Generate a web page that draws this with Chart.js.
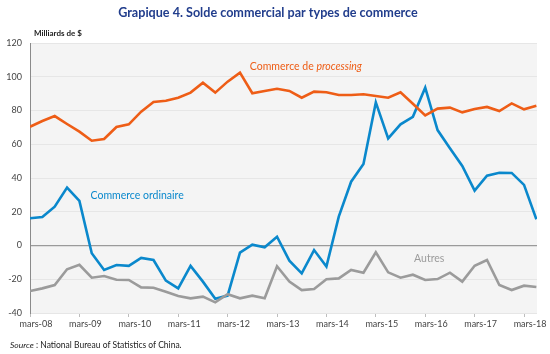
<!DOCTYPE html>
<html>
<head>
<meta charset="utf-8">
<script src="https://cdn.jsdelivr.net/npm/chart.js@4.4.0/dist/chart.umd.min.js"></script>
<style>
  body { margin: 0; background: #fff; }
  canvas { display: block; }
</style>
</head>
<body>
<canvas id="chart" width="550" height="354"></canvas>
<script>
// quarterly values, mars-08 to juin-18
const yearLabels = ['mars-08', 'mars-09', 'mars-10', 'mars-11', 'mars-12', 'mars-13',
  'mars-14', 'mars-15', 'mars-16', 'mars-17', 'mars-18'];

const processing = [70.4, 73.8, 76.7, 72, 67.5, 62.1, 63.1, 70.2, 71.8, 79.3,
  85, 85.8, 87.6, 90.6, 96.5, 90.6, 97.1, 102.4, 90.2, 91.6,
  92.9, 91.6, 87.6, 91.2, 90.8, 89.2, 89.2, 89.6, 88.6, 87.6,
  90.8, 84, 77.1, 81.1, 81.7, 78.9, 80.9, 82.1, 79.7, 84.2,
  80.7, 82.8];

const ordinaire = [16.1, 16.9, 23, 34.3, 26.4, -4.6, -14.5, -11.6, -12.1, -7.4,
  -8.6, -20.8, -25.4, -12.1, -21.4, -31.5, -29.7, -4.2, 0.5, -1.1,
  5.2, -9, -16.5, -2.7, -12.5, 17.1, 37.8, 48.3, 84.8, 63.5,
  71.8, 76.3, 93.5, 68.4, 57.6, 47.1, 32.5, 41.4, 43.1, 43,
  35.9, 15.5];

const autres = [-27, -25.4, -23.4, -14.1, -11.4, -19.1, -18.1, -20.3, -20.4, -24.8,
  -25, -27.4, -29.9, -31.3, -30.3, -33.7, -28.9, -31.3, -29.7, -31.3,
  -12.3, -21.4, -26.4, -25.8, -20, -19.5, -14.5, -16.1, -4, -15.9,
  -19.1, -17.3, -20.4, -19.9, -16.1, -21.4, -12, -8.6, -23.4, -26.4,
  -23.8, -24.6];

const ORANGE = '#ee5d16';
const BLUE = '#0a88cc';
const GREY = '#9b9b9b';

const toPoints = arr => arr.map((v, i) => ({ x: i, y: v }));

const decor = {
  id: 'decor',
  beforeDraw(chart) {
    const { ctx, chartArea: a } = chart;
    ctx.save();
    ctx.fillStyle = '#f4f4f4';
    ctx.fillRect(a.left, a.top, a.right - a.left, a.bottom - a.top);
    ctx.restore();
  },
  afterDraw(chart) {
    const { ctx } = chart;
    const xs = chart.scales.x, ys = chart.scales.y;
    ctx.save();
    ctx.textBaseline = 'middle';

    ctx.fillStyle = '#213d8c';
    ctx.font = 'bold 12.6px Lato';
    ctx.textAlign = 'center';
    ctx.fillText('Grapique 4. Solde commercial par types de commerce', 268, 13);

    ctx.textAlign = 'left';
    ctx.fillStyle = '#222';
    ctx.font = 'bold 8px Lato';
    ctx.fillText('Milliards de $', 34, 33);

    // series labels
    ctx.font = '10.5px Lato';
    ctx.fillStyle = ORANGE;
    let x = xs.getPixelForValue(17.8), y = ys.getPixelForValue(106);
    ctx.fillText('Commerce de ', x, y);
    x += ctx.measureText('Commerce de ').width;
    ctx.font = 'italic 10.5px Lato';
    ctx.fillText('processing', x, y);

    ctx.font = '10.5px Lato';
    ctx.fillStyle = BLUE;
    ctx.fillText('Commerce ordinaire', xs.getPixelForValue(4.9), ys.getPixelForValue(29.5));

    ctx.fillStyle = GREY;
    ctx.fillText('Autres', xs.getPixelForValue(31.1), ys.getPixelForValue(-7.6));

    // source
    ctx.fillStyle = '#222';
    ctx.font = 'italic 8.5px Lato';
    ctx.fillText('Source', 10, 345);
    const w = ctx.measureText('Source').width;
    ctx.font = '8.5px Lato';
    ctx.fillText(' : National Bureau of Statistics of China.', 10 + w, 345);
    ctx.restore();
  }
};

const mkSet = (label, arr, color) => ({
  label,
  data: toPoints(arr),
  borderColor: color,
  borderWidth: 2.6,
  pointRadius: 0,
  tension: 0,
  fill: false
});

new Chart(document.getElementById('chart').getContext('2d'), {
  type: 'line',
  data: {
    datasets: [
      mkSet('Autres', autres, GREY),
      mkSet('Commerce de processing', processing, ORANGE),
      mkSet('Commerce ordinaire', ordinaire, BLUE)
    ]
  },
  options: {
    responsive: false,
    animation: false,
    layout: { padding: { left: 0, right: 13, top: 43, bottom: 0 } },
    plugins: {
      legend: { display: false },
      tooltip: { enabled: false }
    },
    scales: {
      x: {
        type: 'linear',
        min: 0,
        max: 41.05,
        afterFit: s => { s.height = 41; },
        afterBuildTicks: s => {
          s.ticks = yearLabels.map((_, i) => ({ value: i * 4 }));
        },
        ticks: {
          autoSkip: false,
          maxRotation: 0,
          labelOffset: 6,
          padding: 2,
          color: '#444',
          font: { family: 'Lato', size: 9 },
          callback: v => yearLabels[v / 4]
        },
        grid: {
          drawOnChartArea: false,
          tickLength: 4,
          color: '#bdbdbd'
        },
        border: { display: false }
      },
      y: {
        min: -40,
        max: 120,
        afterFit: s => { s.width = 30; },
        ticks: {
          stepSize: 20,
          padding: 8,
          color: '#444',
          font: { family: 'Lato', size: 9 }
        },
        grid: {
          drawTicks: false,
          color: ctx => ctx.tick && ctx.tick.value === 0 ? '#9a9a9a' : '#e6e6e6',
          lineWidth: ctx => ctx.tick && ctx.tick.value === 0 ? 1.3 : 1
        },
        border: { display: true, color: '#8a8a8a', width: 1 }
      }
    }
  },
  plugins: [decor]
});
</script>
</body>
</html>
